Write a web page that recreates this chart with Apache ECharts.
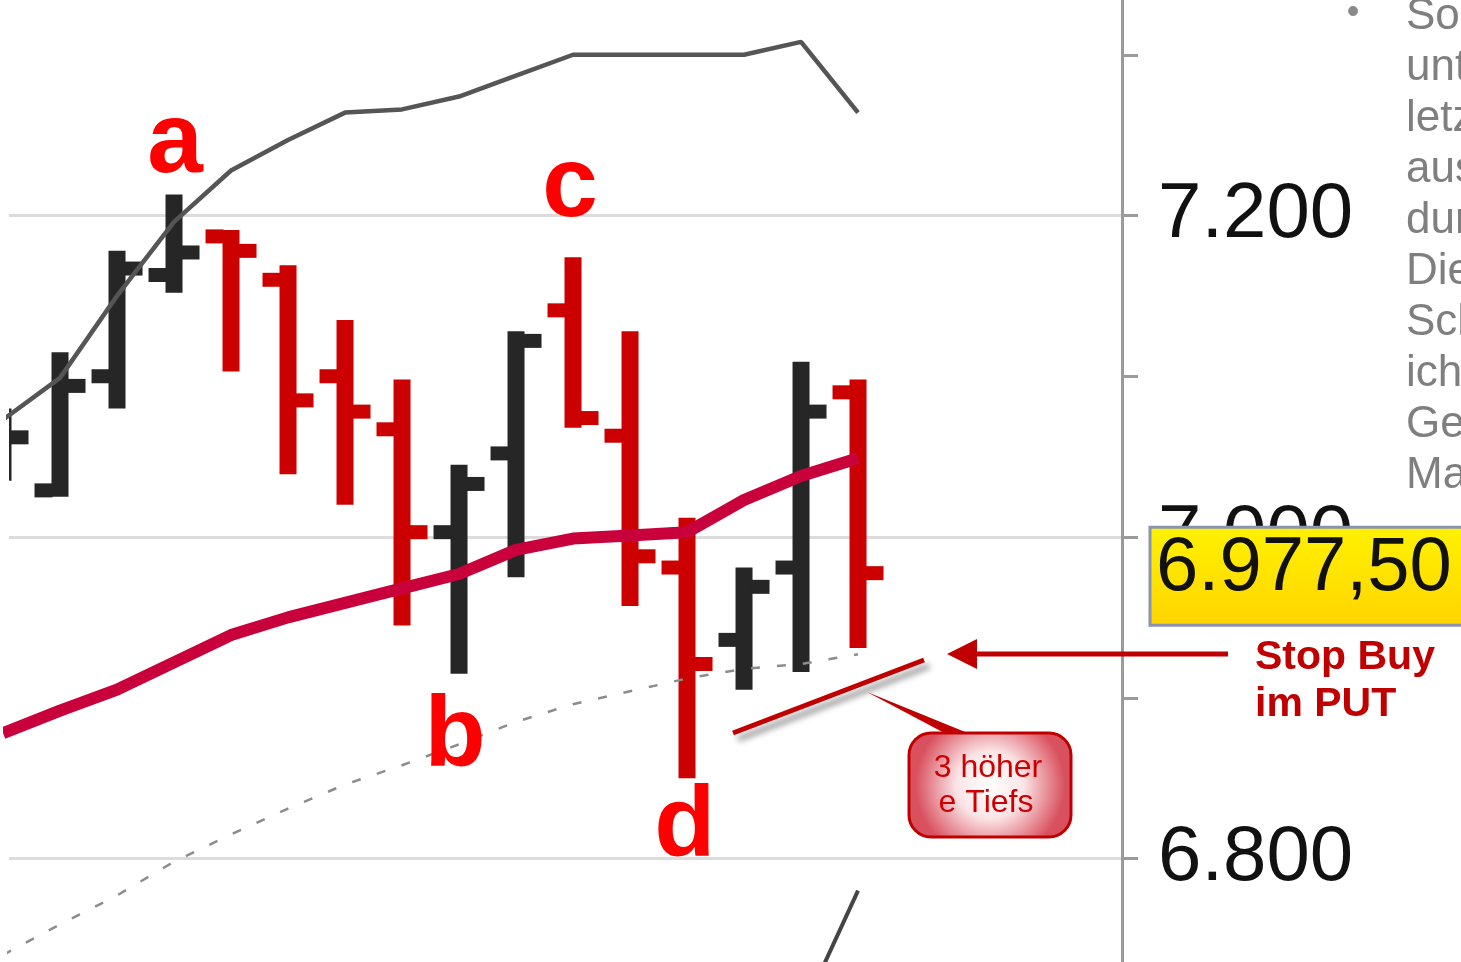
<!DOCTYPE html>
<html>
<head>
<meta charset="utf-8">
<script src="https://cdn.jsdelivr.net/npm/echarts@6/dist/echarts.min.js"></script>
<style>
  html, body { margin: 0; padding: 0; background: #fff; }
  #chart { width: 1461px; height: 962px; }
</style>
</head>
<body>
<div id="chart"></div>
<script>
// bars (index on the time axis)
const barIndex = [0, 1, 2, 3, 4, 5, 6, 7, 8, 9, 10, 11, 12, 13, 14, 15]
const openVals = [7045, 7029, 7100, 7163, 7187, 7160, 7100, 7067, 7003, 7052, 7141, 7063, 6981, 6936, 6981, 7090]
const highVals = [7080, 7115, 7178, 7213, 7191, 7169, 7135, 7098, 7045, 7128, 7174, 7128, 7012, 6981, 7109, 7098]
const lowVals = [7035, 7025, 7080, 7152, 7103, 7039, 7020, 6945, 6915, 6975, 7068, 6957, 6850, 6905, 6916, 6931]
const closeVals = [7062, 7094, 7167, 7177, 7178, 7085, 7078, 7003, 7033, 7122, 7074, 6988, 6921, 6969, 7078, 6977.5]

// indicator lines
const upperBand = [7073, 7099, 7150, 7196, 7228, 7247, 7264, 7266, 7274, 7287, 7300, 7300, 7300, 7300, 7308, 7264]
const movingAvg = [6878, 6892, 6905, 6922, 6939, 6950, 6959, 6968, 6977, 6992, 6999, 7001, 7003, 7023, 7038, 7049]
const lowerBand = [6740, 6759, 6777, 6798, 6815, 6831, 6846, 6858, 6871, 6885, 6896, 6904, 6912, 6918, 6921, 6927]
const steepLine = [null, null, null, null, null, null, null, null, null, null, null, null, null, null, 6703, 6780]

// swing point labels
const swingNames = ['a', 'b', 'c', 'd']
const swingX = [3.02, 7.93, 9.95, 11.96]
const swingY = [7244, 6875, 7217, 6819]

const lastPrice = 6977.5
const sideText = ['Sol', 'unt', 'letz', 'aus', 'dur', 'Die', 'Sch', 'ich', 'Ge', 'Ma']

const RED = '#cc0000'
const DARK = '#262626'

const fmt = (v) => {
  const s = Math.abs(v).toFixed(0)
  return s.length > 3 ? s.slice(0, -3) + '.' + s.slice(-3) : s
}
const fmtPrice = (v) => {
  const parts = v.toFixed(2).split('.')
  return fmt(Number(parts[0])) + ',' + parts[1]
}

const ohlc = barIndex.map((i, k) => [i, openVals[k], highVals[k], lowVals[k], closeVals[k]])
const pairs = (arr) => arr.map((v, k) => [barIndex[k], v]).filter((p) => p[1] !== null)

function renderOhlc(params, api) {
  const i = api.value(0)
  const o = api.value(1)
  const h = api.value(2)
  const l = api.value(3)
  const c = api.value(4)
  const top = api.coord([i, h])
  const bot = api.coord([i, l])
  const po = api.coord([i, o])
  const pc = api.coord([i, c])
  const color = c >= o ? DARK : RED
  const w = 17
  const t = 14
  const len = 17
  const x = top[0]
  return {
    type: 'group',
    children: [
      { type: 'rect', shape: { x: x - w / 2, y: top[1], width: w, height: bot[1] - top[1] }, style: { fill: color } },
      { type: 'rect', shape: { x: x - w / 2 - len, y: po[1] - t / 2, width: len + 1, height: t }, style: { fill: color } },
      { type: 'rect', shape: { x: x + w / 2 - 1, y: pc[1] - t / 2, width: len + 1, height: t }, style: { fill: color } }
    ]
  }
}

const chart = echarts.init(document.getElementById('chart'))

chart.setOption({
  animation: false,
  backgroundColor: '#ffffff',
  grid: { left: 9, right: 339, top: -106, bottom: -218, outerBoundsMode: 'none', containLabel: false },
  xAxis: {
    type: 'value',
    min: 0.105,
    max: 19.631,
    show: false
  },
  yAxis: {
    type: 'value',
    position: 'right',
    min: 6600,
    max: 7400,
    interval: 200,
    axisLine: { show: true, lineStyle: { color: '#9a9a9a', width: 3 } },
    axisTick: { show: true, length: 16, lineStyle: { color: '#9a9a9a', width: 3 } },
    minorTick: { show: true, splitNumber: 2, length: 16, lineStyle: { color: '#9a9a9a', width: 3 } },
    splitLine: { show: true, lineStyle: { color: '#dcdcdc', width: 3 } },
    axisLabel: {
      margin: 36,
      fontFamily: 'Liberation Sans',
      fontSize: 78,
      color: '#111111',
      padding: [0, 0, 15, 0],
      formatter: (v) => fmt(v)
    }
  },
  series: [
    {
      type: 'custom',
      name: 'Bars',
      renderItem: renderOhlc,
      clip: true,
      encode: { x: 0, y: [1, 2, 3, 4] },
      data: ohlc,
      z: 2
    },
    {
      type: 'line',
      name: 'Lower band',
      data: pairs(lowerBand),
      showSymbol: false,
      lineStyle: { color: '#8c8c8c', width: 2.5, type: [9, 17] },
      z: 3
    },
    {
      type: 'line',
      name: 'Steep',
      data: pairs(steepLine),
      showSymbol: false,
      lineStyle: { color: '#444444', width: 4 },
      z: 3
    },
    {
      type: 'line',
      name: 'Upper band',
      data: pairs(upperBand),
      showSymbol: false,
      lineStyle: { color: '#555555', width: 4.5 },
      z: 4
    },
    {
      type: 'line',
      name: 'MA',
      data: pairs(movingAvg),
      showSymbol: false,
      lineStyle: { color: '#c8003c', width: 12 },
      z: 5
    },
    {
      type: 'scatter',
      name: 'Swings',
      data: swingNames.map((n, k) => [swingX[k], swingY[k], n]),
      symbolSize: 2,
      itemStyle: { color: 'rgba(0,0,0,0)', opacity: 1 },
      label: {
        show: true,
        position: 'inside',
        formatter: (p) => p.value[2],
        fontFamily: 'Liberation Sans Narrow, Liberation Sans',
        fontWeight: 'bold',
        fontSize: 100,
        color: '#ff0000'
      },
      z: 6
    }
  ]
})

const yLast = chart.convertToPixel({ yAxisIndex: 0 }, lastPrice)

chart.setOption({
  graphic: [
    // price box
    {
      type: 'rect',
      z: 100,
      shape: { x: 1150, y: yLast - 46, width: 330, height: 98 },
      style: {
        fill: new echarts.graphic.LinearGradient(0, 0, 0, 1, [
          { offset: 0, color: '#fff200' },
          { offset: 1, color: '#ffd400' }
        ]),
        stroke: '#8a93b0',
        lineWidth: 3
      }
    },
    {
      type: 'text',
      z: 101,
      x: 1156,
      y: yLast - 4,
      style: {
        text: fmtPrice(lastPrice),
        font: '76px "Liberation Sans"',
        fill: '#111111',
        verticalAlign: 'middle'
      }
    },
    // bullet text on the right
    {
      type: 'text',
      z: 100,
      x: 1353,
      y: 13,
      style: { text: '•', font: '36px "Liberation Sans"', fill: '#8a8a8a', align: 'center', verticalAlign: 'middle' }
    },
    ...sideText.map((s, k) => ({
      type: 'text',
      z: 100,
      x: 1406,
      y: 17 + k * 51,
      style: { text: s, font: '44px "Liberation Sans"', fill: '#7f7f7f', verticalAlign: 'middle' }
    })),
    // arrow to the stop level
    {
      type: 'line',
      z: 100,
      shape: { x1: 1228, y1: 654, x2: 970, y2: 654 },
      style: { stroke: '#c00000', lineWidth: 5 }
    },
    {
      type: 'polygon',
      z: 100,
      shape: { points: [[947, 654], [977, 639], [977, 669]] },
      style: { fill: '#c00000' }
    },
    {
      type: 'text',
      z: 100,
      x: 1255,
      y: 658,
      style: { text: 'Stop Buy', font: 'bold 41px "Liberation Sans"', fill: '#c00000', verticalAlign: 'middle' }
    },
    {
      type: 'text',
      z: 100,
      x: 1255,
      y: 705,
      style: { text: 'im PUT', font: 'bold 41px "Liberation Sans"', fill: '#c00000', verticalAlign: 'middle' }
    },
    // rising lows trend line
    {
      type: 'line',
      z: 100,
      shape: { x1: 733, y1: 733, x2: 924, y2: 660 },
      style: {
        stroke: '#c00000',
        lineWidth: 5,
        shadowBlur: 6,
        shadowOffsetX: 5,
        shadowOffsetY: 6,
        shadowColor: 'rgba(0,0,0,0.45)'
      }
    },
    // callout
    {
      type: 'polygon',
      z: 100,
      shape: { points: [[867, 692], [950, 736], [975, 736]] },
      style: { fill: '#c00000' }
    },
    {
      type: 'rect',
      z: 101,
      shape: { x: 909, y: 733, width: 162, height: 104, r: 22 },
      style: {
        fill: new echarts.graphic.RadialGradient(0.5, 0.5, 0.7, [
          { offset: 0, color: '#ffffff' },
          { offset: 0.45, color: '#fbe4e6' },
          { offset: 1, color: '#d9505e' }
        ]),
        stroke: '#c00000',
        lineWidth: 3
      }
    },
    {
      type: 'text',
      z: 102,
      x: 988,
      y: 768,
      style: { text: '3 höher', font: '32px "Liberation Sans"', fill: '#cc0000', align: 'center', verticalAlign: 'middle' }
    },
    {
      type: 'text',
      z: 102,
      x: 986,
      y: 803,
      style: { text: 'e Tiefs', font: '32px "Liberation Sans"', fill: '#cc0000', align: 'center', verticalAlign: 'middle' }
    }
  ]
})
</script>
</body>
</html>
